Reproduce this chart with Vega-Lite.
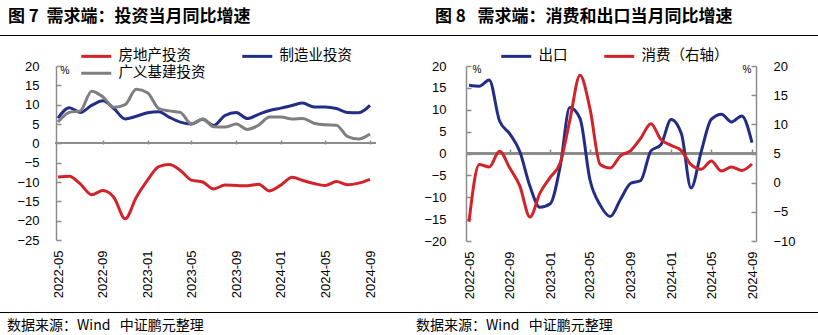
{
 "$schema": "https://vega.github.io/schema/vega-lite/v6.json",
 "padding": {"left": 0, "right": 0, "top": 8, "bottom": 0},
 "background": "white",
 "datasets": {
  "inv": [
   {"m":"2022-05","s":"房地产投资","v":-8.7},{"m":"2022-06","s":"房地产投资","v":-8.5},{"m":"2022-07","s":"房地产投资","v":-10.5},{"m":"2022-08","s":"房地产投资","v":-13.3},{"m":"2022-09","s":"房地产投资","v":-12.2},{"m":"2022-10","s":"房地产投资","v":-14.0},{"m":"2022-11","s":"房地产投资","v":-19.5},{"m":"2022-12","s":"房地产投资","v":-14.0},{"m":"2023-01","s":"房地产投资","v":-9.5},{"m":"2023-02","s":"房地产投资","v":-6.0},{"m":"2023-03","s":"房地产投资","v":-5.5},{"m":"2023-04","s":"房地产投资","v":-7.0},{"m":"2023-05","s":"房地产投资","v":-9.5},{"m":"2023-06","s":"房地产投资","v":-10.0},{"m":"2023-07","s":"房地产投资","v":-11.8},{"m":"2023-08","s":"房地产投资","v":-10.8},{"m":"2023-09","s":"房地产投资","v":-10.9},{"m":"2023-10","s":"房地产投资","v":-11.0},{"m":"2023-11","s":"房地产投资","v":-10.6},{"m":"2023-12","s":"房地产投资","v":-12.3},{"m":"2024-01","s":"房地产投资","v":-10.8},{"m":"2024-02","s":"房地产投资","v":-8.8},{"m":"2024-03","s":"房地产投资","v":-9.6},{"m":"2024-04","s":"房地产投资","v":-10.4},{"m":"2024-05","s":"房地产投资","v":-10.9},{"m":"2024-06","s":"房地产投资","v":-9.9},{"m":"2024-07","s":"房地产投资","v":-10.7},{"m":"2024-08","s":"房地产投资","v":-10.3},{"m":"2024-09","s":"房地产投资","v":-9.3},
   {"m":"2022-05","s":"制造业投资","v":6.5},{"m":"2022-06","s":"制造业投资","v":9.2},{"m":"2022-07","s":"制造业投资","v":8.0},{"m":"2022-08","s":"制造业投资","v":9.8},{"m":"2022-09","s":"制造业投资","v":11.0},{"m":"2022-10","s":"制造业投资","v":9.0},{"m":"2022-11","s":"制造业投资","v":6.3},{"m":"2022-12","s":"制造业投资","v":7.0},{"m":"2023-01","s":"制造业投资","v":7.9},{"m":"2023-02","s":"制造业投资","v":8.2},{"m":"2023-03","s":"制造业投资","v":6.8},{"m":"2023-04","s":"制造业投资","v":5.5},{"m":"2023-05","s":"制造业投资","v":5.0},{"m":"2023-06","s":"制造业投资","v":6.2},{"m":"2023-07","s":"制造业投资","v":4.6},{"m":"2023-08","s":"制造业投资","v":7.2},{"m":"2023-09","s":"制造业投资","v":8.0},{"m":"2023-10","s":"制造业投资","v":6.4},{"m":"2023-11","s":"制造业投资","v":7.5},{"m":"2023-12","s":"制造业投资","v":8.5},{"m":"2024-01","s":"制造业投资","v":9.1},{"m":"2024-02","s":"制造业投资","v":9.8},{"m":"2024-03","s":"制造业投资","v":10.4},{"m":"2024-04","s":"制造业投资","v":9.4},{"m":"2024-05","s":"制造业投资","v":9.4},{"m":"2024-06","s":"制造业投资","v":9.0},{"m":"2024-07","s":"制造业投资","v":8.0},{"m":"2024-08","s":"制造业投资","v":7.9},{"m":"2024-09","s":"制造业投资","v":9.8},
   {"m":"2022-05","s":"广义基建投资","v":5.5},{"m":"2022-06","s":"广义基建投资","v":8.0},{"m":"2022-07","s":"广义基建投资","v":8.4},{"m":"2022-08","s":"广义基建投资","v":13.5},{"m":"2022-09","s":"广义基建投资","v":12.0},{"m":"2022-10","s":"广义基建投资","v":9.3},{"m":"2022-11","s":"广义基建投资","v":10.0},{"m":"2022-12","s":"广义基建投资","v":14.0},{"m":"2023-01","s":"广义基建投资","v":13.1},{"m":"2023-02","s":"广义基建投资","v":9.0},{"m":"2023-03","s":"广义基建投资","v":8.4},{"m":"2023-04","s":"广义基建投资","v":8.0},{"m":"2023-05","s":"广义基建投资","v":5.0},{"m":"2023-06","s":"广义基建投资","v":6.3},{"m":"2023-07","s":"广义基建投资","v":4.3},{"m":"2023-08","s":"广义基建投资","v":4.2},{"m":"2023-09","s":"广义基建投资","v":5.0},{"m":"2023-10","s":"广义基建投资","v":3.6},{"m":"2023-11","s":"广义基建投资","v":4.7},{"m":"2023-12","s":"广义基建投资","v":6.8},{"m":"2024-01","s":"广义基建投资","v":6.8},{"m":"2024-02","s":"广义基建投资","v":6.3},{"m":"2024-03","s":"广义基建投资","v":6.4},{"m":"2024-04","s":"广义基建投资","v":5.2},{"m":"2024-05","s":"广义基建投资","v":4.8},{"m":"2024-06","s":"广义基建投资","v":4.7},{"m":"2024-07","s":"广义基建投资","v":1.8},{"m":"2024-08","s":"广义基建投资","v":1.1},{"m":"2024-09","s":"广义基建投资","v":2.4}
  ],
  "dem": [
   {"m":"2022-05","s":"出口","v":15.6},{"m":"2022-06","s":"出口","v":15.4},{"m":"2022-07","s":"出口","v":16.8},{"m":"2022-08","s":"出口","v":7.5},{"m":"2022-09","s":"出口","v":4.5},{"m":"2022-10","s":"出口","v":0.5},{"m":"2022-11","s":"出口","v":-7.5},{"m":"2022-12","s":"出口","v":-12.3},{"m":"2023-01","s":"出口","v":-11.5},{"m":"2023-02","s":"出口","v":-2.6},{"m":"2023-03","s":"出口","v":10.5},{"m":"2023-04","s":"出口","v":8.0},{"m":"2023-05","s":"出口","v":-6.0},{"m":"2023-06","s":"出口","v":-11.8},{"m":"2023-07","s":"出口","v":-14.4},{"m":"2023-08","s":"出口","v":-10.5},{"m":"2023-09","s":"出口","v":-6.8},{"m":"2023-10","s":"出口","v":-6.2},{"m":"2023-11","s":"出口","v":0.6},{"m":"2023-12","s":"出口","v":2.0},{"m":"2024-01","s":"出口","v":7.8},{"m":"2024-02","s":"出口","v":4.5},{"m":"2024-03","s":"出口","v":-7.9},{"m":"2024-04","s":"出口","v":0.5},{"m":"2024-05","s":"出口","v":7.8},{"m":"2024-06","s":"出口","v":9.0},{"m":"2024-07","s":"出口","v":7.2},{"m":"2024-08","s":"出口","v":8.6},{"m":"2024-09","s":"出口","v":2.5},
   {"m":"2022-05","s":"消费（右轴）","v":-6.7},{"m":"2022-06","s":"消费（右轴）","v":3.1},{"m":"2022-07","s":"消费（右轴）","v":2.7},{"m":"2022-08","s":"消费（右轴）","v":5.4},{"m":"2022-09","s":"消费（右轴）","v":2.5},{"m":"2022-10","s":"消费（右轴）","v":-0.5},{"m":"2022-11","s":"消费（右轴）","v":-5.9},{"m":"2022-12","s":"消费（右轴）","v":-1.8},{"m":"2023-01","s":"消费（右轴）","v":0.9},{"m":"2023-02","s":"消费（右轴）","v":3.5},{"m":"2023-03","s":"消费（右轴）","v":10.6},{"m":"2023-04","s":"消费（右轴）","v":18.4},{"m":"2023-05","s":"消费（右轴）","v":12.7},{"m":"2023-06","s":"消费（右轴）","v":3.1},{"m":"2023-07","s":"消费（右轴）","v":2.5},{"m":"2023-08","s":"消费（右轴）","v":4.6},{"m":"2023-09","s":"消费（右轴）","v":5.5},{"m":"2023-10","s":"消费（右轴）","v":7.6},{"m":"2023-11","s":"消费（右轴）","v":10.1},{"m":"2023-12","s":"消费（右轴）","v":7.4},{"m":"2024-01","s":"消费（右轴）","v":6.4},{"m":"2024-02","s":"消费（右轴）","v":5.5},{"m":"2024-03","s":"消费（右轴）","v":3.1},{"m":"2024-04","s":"消费（右轴）","v":2.3},{"m":"2024-05","s":"消费（右轴）","v":3.7},{"m":"2024-06","s":"消费（右轴）","v":2.0},{"m":"2024-07","s":"消费（右轴）","v":2.7},{"m":"2024-08","s":"消费（右轴）","v":2.1},{"m":"2024-09","s":"消费（右轴）","v":3.2}
  ]
 },
 "config": {
  "view": {"stroke": null},
  "axis": {"labelFont": "Liberation Sans", "labelFontSize": 13, "labelColor": "#000", "domainColor": "#8c8c8c", "domainWidth": 1.5, "tickColor": "#8c8c8c", "tickWidth": 1.5, "grid": false, "titleFont": "Liberation Sans", "titleFontWeight": "normal", "titleColor": "#000", "labelOverlap": false, "labelFlush": false},
  "legend": {"labelFont": "Noto Sans CJK SC", "labelFontSize": 14.5, "labelColor": "#000"},
  "title": {"font": "Noto Sans CJK SC", "color": "#000"}
 },
 "spacing": 13,
 "vconcat": [
  {
   "spacing": 0,
   "hconcat": [
    {"width": 409, "height": 1, "data": {"values": [{}]}, "mark": {"type": "rect", "color": "#000"}, "encoding": {},
     "title": {"text": "图\u00a07\u00a0\u00a0需求端：投资当月同比增速", "anchor": "start", "fontSize": 17, "fontWeight": "bold", "dx": 8, "offset": 9}},
    {"width": 409, "height": 1, "data": {"values": [{}]}, "mark": {"type": "rect", "color": "#000"}, "encoding": {},
     "title": {"text": "图\u00a08\u00a0\u00a0\u00a0需求端：消费和出口当月同比增速", "anchor": "start", "fontSize": 17, "fontWeight": "bold", "dx": 26, "offset": 9}}
   ]
  },
  {
   "spacing": 0,
   "resolve": {"scale": {"color": "independent"}, "legend": {"color": "independent"}},
   "hconcat": [
    {
     "width": 409, "height": 174,
     "data": {"name": "inv"},
     "resolve": {"scale": {"y": "independent"}, "axis": {"x": "independent"}},
     "layer": [
      {"mark": {"type": "rule", "color": "#8c8c8c", "strokeWidth": 1.5},
       "encoding": {
        "x": {"datum": {"year": 2022, "month": 4, "date": 25, "utc": true}, "type": "temporal",
              "axis": {"orient": "top", "offset": -78, "values": [{"year":2022,"month":9,"date":1,"utc":true},{"year":2023,"month":1,"date":1,"utc":true},{"year":2023,"month":5,"date":1,"utc":true},{"year":2023,"month":9,"date":1,"utc":true},{"year":2024,"month":1,"date":1,"utc":true},{"year":2024,"month":5,"date":1,"utc":true},{"year":2024,"month":9,"date":1,"utc":true}], "labels": false, "domain": false, "ticks": true, "tickSize": 4, "title": null}},
        "x2": {"datum": {"year": 2024, "month": 9, "date": 17, "utc": true}},
        "y": {"datum": 0, "type": "quantitative", "scale": {"domain": [-25, 20], "nice": false, "zero": false}, "axis": null}
       }},
      {"mark": {"type": "line", "strokeWidth": 3, "interpolate": "monotone"},
       "encoding": {
        "x": {"field": "m", "type": "temporal",
              "scale": {"type": "utc", "domain": [{"year":2022,"month":5,"date":1,"utc":true},{"year":2024,"month":9,"date":1,"utc":true}], "range": [58, 370]},
              "axis": {"orient": "bottom", "values": [{"year":2022,"month":5,"date":1,"utc":true},{"year":2022,"month":9,"date":1,"utc":true},{"year":2023,"month":1,"date":1,"utc":true},{"year":2023,"month":5,"date":1,"utc":true},{"year":2023,"month":9,"date":1,"utc":true},{"year":2024,"month":1,"date":1,"utc":true},{"year":2024,"month":5,"date":1,"utc":true},{"year":2024,"month":9,"date":1,"utc":true}], "format": "%Y-%m", "labelAngle": -90, "labelPadding": 10, "domain": false, "ticks": false, "title": null, "labelOverlap": false}},
        "y": {"field": "v", "type": "quantitative", "scale": {"domain": [-25, 20], "nice": false, "zero": false},
              "axis": {"orient": "left", "offset": -56, "values": [-25,-20,-15,-10,-5,0,5,10,15,20], "labelOverlap": false, "tickSize": -5, "labelPadding": 22, "title": "%", "titleAngle": 0, "titleX": 4, "titleY": -1, "titleAlign": "left", "titleBaseline": "top", "titleFontSize": 10}},
        "color": {"field": "s", "type": "nominal", "scale": {"domain": ["房地产投资", "制造业投资", "广义基建投资"], "range": ["#d2232a", "#222e86", "#7f7f7f"]},
                  "legend": {"orient": "none", "direction": "horizontal", "legendX": 89, "legendY": -17, "columns": 2, "title": null, "symbolType": "M-3,0L3,0", "symbolSize": 100, "symbolStrokeWidth": 3, "labelOffset": 15, "columnPadding": 30, "rowPadding": 2, "padding": 0}}
       }}
     ]
    },
    {
     "width": 409, "height": 175,
     "data": {"name": "dem"},
     "resolve": {"scale": {"y": "independent"}, "axis": {"x": "independent"}},
     "layer": [
      {"mark": {"type": "rule", "color": "#8c8c8c", "strokeWidth": 1.5},
       "encoding": {
        "x": {"datum": {"year": 2022, "month": 4, "date": 22, "utc": true}, "type": "temporal",
              "axis": {"orient": "top", "offset": -87, "values": [{"year":2022,"month":9,"date":1,"utc":true},{"year":2023,"month":1,"date":1,"utc":true},{"year":2023,"month":5,"date":1,"utc":true},{"year":2023,"month":9,"date":1,"utc":true},{"year":2024,"month":1,"date":1,"utc":true},{"year":2024,"month":5,"date":1,"utc":true},{"year":2024,"month":9,"date":1,"utc":true}], "labels": false, "domain": false, "ticks": true, "tickSize": 4, "title": null}},
        "x2": {"datum": {"year": 2024, "month": 9, "date": 13, "utc": true}},
        "y": {"datum": 0, "type": "quantitative", "scale": {"domain": [-20, 20], "nice": false, "zero": false}, "axis": null}
       }},
      {"transform": [{"filter": "datum.s === '出口'"}],
       "mark": {"type": "line", "strokeWidth": 3, "interpolate": "monotone"},
       "encoding": {
        "x": {"field": "m", "type": "temporal",
              "scale": {"type": "utc", "domain": [{"year":2022,"month":5,"date":1,"utc":true},{"year":2024,"month":9,"date":1,"utc":true}], "range": [60, 343]},
              "axis": {"orient": "bottom", "values": [{"year":2022,"month":5,"date":1,"utc":true},{"year":2022,"month":9,"date":1,"utc":true},{"year":2023,"month":1,"date":1,"utc":true},{"year":2023,"month":5,"date":1,"utc":true},{"year":2023,"month":9,"date":1,"utc":true},{"year":2024,"month":1,"date":1,"utc":true},{"year":2024,"month":5,"date":1,"utc":true},{"year":2024,"month":9,"date":1,"utc":true}], "format": "%Y-%m", "labelAngle": -90, "labelPadding": 10, "domain": false, "ticks": false, "title": null, "labelOverlap": false}},
        "y": {"field": "v", "type": "quantitative", "scale": {"domain": [-20, 20], "nice": false, "zero": false},
              "axis": {"orient": "left", "offset": -57, "values": [-20,-15,-10,-5,0,5,10,15,20], "labelOverlap": false, "tickSize": -5, "labelPadding": 25, "title": "%", "titleAngle": 0, "titleX": 6, "titleY": -2, "titleAlign": "left", "titleBaseline": "top", "titleFontSize": 10}},
        "color": {"field": "s", "type": "nominal", "scale": {"domain": ["出口", "消费（右轴）"], "range": ["#222e86", "#d2232a"]},
                  "legend": {"orient": "none", "direction": "horizontal", "legendX": 100, "legendY": -17, "columns": 2, "title": null, "symbolType": "M-3,0L3,0", "symbolSize": 100, "symbolStrokeWidth": 3, "labelOffset": 15, "columnPadding": 30, "rowPadding": 2, "padding": 0}}
       }},
      {"transform": [{"filter": "datum.s === '消费（右轴）'"}],
       "mark": {"type": "line", "strokeWidth": 3, "interpolate": "monotone"},
       "encoding": {
        "x": {"field": "m", "type": "temporal", "axis": null},
        "y": {"field": "v", "type": "quantitative", "scale": {"domain": [-10, 20], "nice": false, "zero": false},
              "axis": {"orient": "right", "offset": -62, "values": [-10,-5,0,5,10,15,20], "labelOverlap": false, "tickSize": -5, "labelPadding": 22, "title": "%", "titleAngle": 0, "titleX": -14, "titleY": -2, "titleAlign": "left", "titleBaseline": "top", "titleFontSize": 10}},
        "color": {"field": "s", "type": "nominal",
                  "legend": {"orient": "none", "direction": "horizontal", "legendX": 100, "legendY": -17, "columns": 2, "title": null, "symbolType": "M-3,0L3,0", "symbolSize": 100, "symbolStrokeWidth": 3, "labelOffset": 15, "columnPadding": 30, "rowPadding": 2, "padding": 0}}
       }}
     ]
    }
   ]
  },
  {
   "spacing": 0,
   "hconcat": [
    {"width": 409, "height": 1, "data": {"values": [{}]}, "mark": {"type": "rect", "color": "#000"}, "encoding": {},
     "title": {"text": "数据来源：Wind\u00a0\u00a0\u00a0中证鹏元整理", "orient": "bottom", "anchor": "start", "fontSize": 14, "fontWeight": "normal", "dx": 7, "offset": 6}},
    {"width": 409, "height": 1, "data": {"values": [{}]}, "mark": {"type": "rect", "color": "#000"}, "encoding": {},
     "title": {"text": "数据来源：Wind\u00a0\u00a0\u00a0中证鹏元整理", "orient": "bottom", "anchor": "start", "fontSize": 14, "fontWeight": "normal", "dx": 7, "offset": 6}}
   ]
  }
 ]
}
